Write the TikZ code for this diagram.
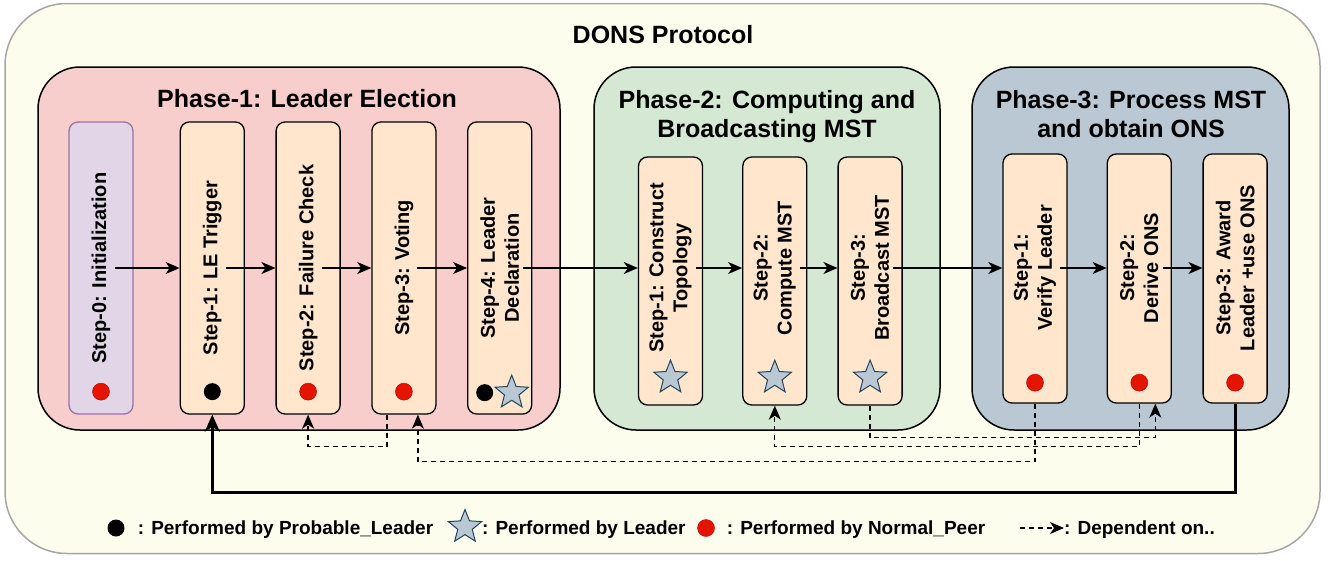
\documentclass[tikz,border=0pt]{standalone}
\usepackage{fontspec}
\setmainfont{Liberation Sans}
\usepackage{xcolor}
\usepackage{tikz}
\usetikzlibrary{shapes.geometric,arrows.meta,positioning}

\definecolor{protofill}{HTML}{FDFDED}
\definecolor{protoline}{HTML}{A6A6A6}
\definecolor{phaseone}{HTML}{F8CECC}
\definecolor{phasetwo}{HTML}{D5E8D4}
\definecolor{phasethree}{HTML}{BAC8D3}
\definecolor{stepfill}{HTML}{FFE6CC}
\definecolor{initfill}{HTML}{E1D5E7}
\definecolor{initline}{HTML}{9673A6}
\definecolor{peerred}{HTML}{E51400}
\definecolor{peerline}{HTML}{B20000}
\definecolor{starfill}{HTML}{BAC8D3}
\definecolor{starline}{HTML}{23445D}

\begin{document}
\begin{tikzpicture}[
    x=1pt, y=-1pt,
    protocol/.style={rectangle, draw=protoline, fill=protofill, line width=1.5pt, rounded corners=62pt, minimum width=1315pt, minimum height=550pt},
    phase/.style={rectangle, draw, line width=1.5pt, rounded corners=42pt, minimum height=363pt},
    phasetitle/.style={font=\fontsize{25}{29}\selectfont\bfseries, align=center, anchor=north, inner sep=0pt},
    stepbox/.style={rectangle, draw, fill=stepfill, line width=1.3pt, rounded corners=9pt, minimum width=64pt},
    steplabel/.style={rotate=90, font=\fontsize{20}{24}\selectfont\bfseries, align=center, inner sep=4pt},
    peerdot/.style={circle, draw=peerline, fill=peerred, minimum size=17pt, inner sep=0pt},
    probdot/.style={circle, fill=black, minimum size=17pt, inner sep=0pt},
    leaderstar/.style={star, star points=5, star point ratio=2.3, draw=starline, fill=starfill, line width=1pt, minimum size=35pt, inner sep=0pt},
    legendtext/.style={font=\fontsize{19}{23}\selectfont\bfseries, inner sep=0pt, yshift=-2pt},
    arrow/.style={-{Stealth[length=14pt, width=12pt, inset=4pt]}, line width=1.3pt},
    depend/.style={arrow, dash pattern=on 5pt off 4pt},
    feedback/.style={-{Stealth[length=17pt, width=15pt, inset=5pt]}, line width=3pt}
]
    \useasboundingbox (0,0) rectangle (1333,560);
    \coordinate (axis) at (0,268);

    % Frame
    \node [protocol] (dons) at (662.5,278.5) {};
    \node [font=\fontsize{25}{29}\selectfont\bfseries, anchor=base] (title) at (663,43) {DONS Protocol};

    % Phases
    \node [phase, fill=phaseone, minimum width=522pt] (ph1) at (299,248.5) {};
    \node [phase, fill=phasetwo, minimum width=346pt] (ph2) at (767,248.5) {};
    \node [phase, fill=phasethree, minimum width=317pt] (ph3) at (1130.5,248.5) {};
    \node [phasetitle] (ph1t) at (307,89) {Phase-1: Leader Election};
    \node [phasetitle] (ph2t) at (767,90) {Phase-2: Computing and\\Broadcasting MST};
    \node [phasetitle] (ph3t) at (1131,90) {Phase-3: Process MST\\and obtain ONS};

    % Phase-1 steps
    \node [stepbox, fill=initfill, draw=initline, minimum height=292pt] (s0) at (101,268) {};
    \node [stepbox, minimum height=292pt, right=46pt of s0] (s1) {};
    \node [stepbox, minimum height=292pt, right=30.5pt of s1] (s2) {};
    \node [stepbox, minimum height=292pt, right=30.5pt of s2] (s3) {};
    \node [stepbox, minimum height=292pt, right=30.5pt of s3] (s4) {};
    \node [steplabel] (t0) at (s0 |- axis) {Step-0: Initialization};
    \node [steplabel] (t1) at (s1 |- axis) {Step-1: LE Trigger};
    \node [steplabel] (t2) at (s2 |- axis) {Step-2: Failure Check};
    \node [steplabel] (t3) at (s3 |- axis) {Step-3: Voting};
    \node [steplabel] (t4) at (s4 |- axis) {Step-4: Leader\\Declaration};

    % Phase-2 steps
    \node [stepbox, minimum height=248pt] (p2s1) at (670.5,281) {};
    \node [stepbox, minimum height=248pt, right=39pt of p2s1] (p2s2) {};
    \node [stepbox, minimum height=248pt, right=30pt of p2s2] (p2s3) {};
    \node [steplabel] (u1) at (p2s1 |- axis) {Step-1: Construct\\Topology};
    \node [steplabel] (u2) at (p2s2 |- axis) {Step-2:\\Compute MST};
    \node [steplabel] (u3) at (p2s3 |- axis) {Step-3:\\Broadcast MST};

    % Phase-3 steps
    \node [stepbox, minimum height=249pt] (p3s1) at (1035,278.5) {};
    \node [stepbox, minimum height=249pt, right=39pt of p3s1] (p3s2) {};
    \node [stepbox, minimum height=249pt, right=30.5pt of p3s2] (p3s3) {};
    \node [steplabel] (v1) at (p3s1 |- axis) {Step-1:\\Verify Leader};
    \node [steplabel] (v2) at (p3s2 |- axis) {Step-2:\\Derive ONS};
    \node [steplabel] (v3) at (p3s3 |- axis) {Step-3: Award\\Leader +use ONS};

    % Who performs each step
    \node [peerdot] (d0) at ([yshift=23pt]s0.south) {};
    \node [probdot] (d1) at ([yshift=23pt]s1.south) {};
    \node [peerdot] (d2) at ([yshift=23pt]s2.south) {};
    \node [peerdot] (d3) at ([yshift=23pt]s3.south) {};
    \node [probdot] (d4) at ([xshift=-15pt,yshift=22pt]s4.south) {};
    \node [leaderstar] (e4) at ([xshift=12pt,yshift=22pt]s4.south) {};
    \node [leaderstar] (e5) at ([yshift=28pt]p2s1.south) {};
    \node [leaderstar] (e6) at ([yshift=28pt]p2s2.south) {};
    \node [leaderstar] (e7) at ([yshift=28pt]p2s3.south) {};
    \node [peerdot] (d8) at ([yshift=21pt]p3s1.south) {};
    \node [peerdot] (d9) at ([yshift=21pt]p3s2.south) {};
    \node [peerdot] (d10) at ([yshift=21pt]p3s3.south) {};

    % Flow
    \draw [arrow] (t0.south) -- (t0.south -| s1.west);
    \draw [arrow] (t1.south) -- (t1.south -| s2.west);
    \draw [arrow] (t2.south) -- (t2.south -| s3.west);
    \draw [arrow] (t3.south) -- (t3.south -| s4.west);
    \draw [arrow] (t4.south) -- (t4.south -| p2s1.west);
    \draw [arrow] (u1.south) -- (u1.south -| p2s2.west);
    \draw [arrow] (u2.south) -- (u2.south -| p2s3.west);
    \draw [arrow] (u3.south) -- (u3.south -| p3s1.west);
    \draw [arrow] (v1.south) -- (v1.south -| p3s2.west);
    \draw [arrow] (v2.south) -- (v2.south -| p3s3.west);

    % Dependencies
    \draw [depend] ([xshift=-17pt]s3.south) -- ++(0,32) -| (s2.south);
    \draw [depend] (p3s1.south) -- ++(0,58) -| ([xshift=14pt]s3.south);
    \draw [depend] (p3s2.south) -- ++(0,43) -| (p2s2.south);
    \draw [depend] (p2s3.south) -- ++(0,32) -| ([xshift=16pt]p3s2.south);
    \draw [feedback] (p3s3.south) -- ++(0,89) -| (s1.south);

    % Legend
    \node [probdot] (lg1) at (116,528) {};
    \node [legendtext, right=13pt of lg1] (lgt1) {: Performed by Probable\_Leader};
    \node [leaderstar] (lg2) at (465,527) {};
    \node [legendtext, anchor=west] (lgt2) at (482,528) {: Performed by Leader};
    \node [peerdot] (lg3) at (706,528) {};
    \node [legendtext, right=12pt of lg3] (lgt3) {: Performed by Normal\_Peer};
    \coordinate (lg4) at (1020,528);
    \node [legendtext, anchor=west] (lgt4) at (1064,528) {: Dependent on..};
    \draw [depend] (lg4) -- (lg4 -| lgt4.west);
\end{tikzpicture}
\end{document}
